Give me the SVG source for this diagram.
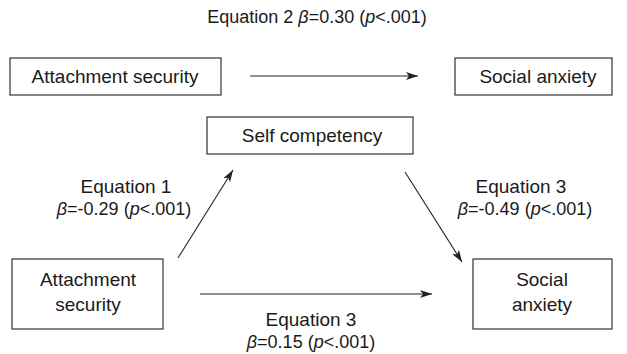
<svg xmlns="http://www.w3.org/2000/svg" width="627" height="354" viewBox="0 0 627 354">
<style>
text{font-family:"Liberation Sans",Arial,sans-serif;font-size:19px;fill:#1a1a1a;text-anchor:middle}
.b{font-size:18px}
.box{fill:#fff;stroke:#333;stroke-width:1.2}
.ln{stroke:#222;stroke-width:1.1;fill:none;marker-end:url(#ah)}
.i{font-style:italic}
</style>
<defs>
<marker id="ah" viewBox="0 0 12 8" refX="12" refY="4" markerWidth="12" markerHeight="8" markerUnits="userSpaceOnUse" orient="auto">
<path d="M0,0 L12,4 L0,8 L3,4 Z" fill="#222"/>
</marker>
</defs>
<rect width="627" height="354" fill="#fff"/>
<g id="title"><text x="317" y="23" class="b">Equation 2 <tspan class="i">β</tspan>=0.30 (<tspan class="i">p</tspan>&lt;.001)</text></g>
<g id="n1"><rect class="box" x="10" y="58" width="211" height="37"/><text x="115" y="83">Attachment security</text></g>
<g id="n2"><rect class="box" x="455" y="58" width="157" height="37"/><text x="538" y="83">Social anxiety</text></g>
<g id="n3"><rect class="box" x="207" y="117" width="206" height="37"/><text x="312" y="142">Self competency</text></g>
<g id="n4"><rect class="box" x="12" y="259" width="151" height="70"/><text x="88" y="286">Attachment</text><text x="88" y="311">security</text></g>
<g id="n5"><rect class="box" x="473" y="259" width="139" height="70"/><text x="542" y="286">Social</text><text x="542" y="311">anxiety</text></g>
<g id="connectors">
<line class="ln" x1="250" y1="76" x2="418" y2="76"/>
<line class="ln" x1="178" y1="258" x2="233" y2="170"/>
<line class="ln" x1="405" y1="172" x2="462" y2="262"/>
<line class="ln" x1="200" y1="294" x2="432" y2="294"/>
</g>
<g id="labels">
<text x="126" y="193">Equation 1</text>
<text x="124" y="215" class="b"><tspan class="i">β</tspan>=-0.29 (<tspan class="i">p</tspan>&lt;.001)</text>
<text x="521" y="193">Equation 3</text>
<text x="525" y="215" class="b"><tspan class="i">β</tspan>=-0.49 (<tspan class="i">p</tspan>&lt;.001)</text>
<text x="311" y="326">Equation 3</text>
<text x="311" y="348" class="b"><tspan class="i">β</tspan>=0.15 (<tspan class="i">p</tspan>&lt;.001)</text>
</g>
</svg>
